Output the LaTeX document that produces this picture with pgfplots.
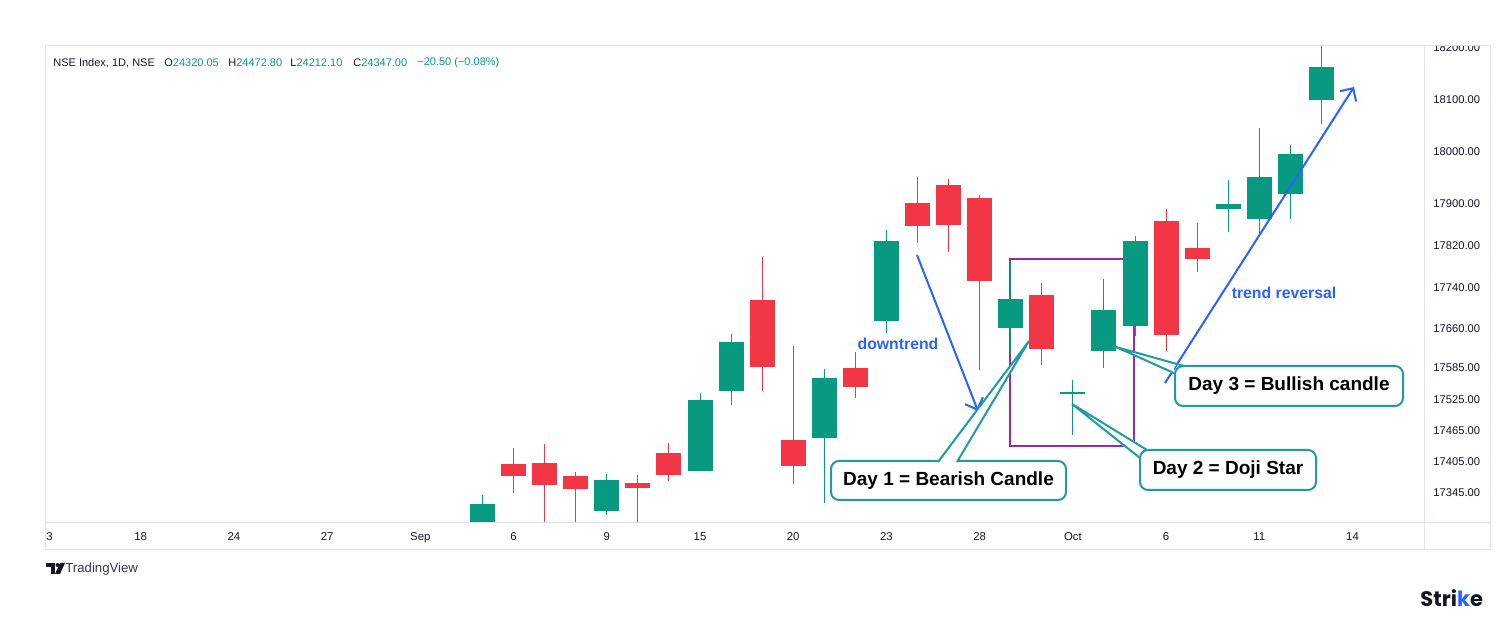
\documentclass[border=0pt]{standalone}
\usepackage{fontspec}
\setmainfont{Liberation Sans}
\newfontfamily\poppins{Poppins}
\usepackage{pgfplots}
\usepackage{pgfplotstable}
\pgfplotsset{compat=1.18}
\usetikzlibrary{arrows.meta}
\definecolor{tvgreen}{HTML}{089981}
\definecolor{tvred}{HTML}{F23645}
\definecolor{tvframe}{HTML}{E0E3EB}
\definecolor{tvtext}{HTML}{131722}
\definecolor{tvblue}{HTML}{2962FF}
\definecolor{tvpurple}{HTML}{9C27B0}
\definecolor{callout}{HTML}{1E9BA3}
% bar index, open, high, low, close
\pgfplotstableread{
x  o      h      l      c
0  17275  17341  17260  17324
4  17310  17382  17303  17370
7  17387  17537  17387  17524
8  17541  17650  17514  17635
11 17451  17583  17326  17566
13 17675  17850  17652  17829
17 17662  17791  17614  17718
19 17536  17562  17456  17539
20 17618  17756  17585  17697
21 17666  17839  17647  17829
24 17891  17946  17846  17900
25 17871  18046  17845  17952
26 17919  18014  17871  17996
27 18100  18210  18054  18163
}\bulldata
\pgfplotstableread{
x  o      h      l      c
1  17401  17431  17345  17378
2  17403  17439  17280  17360
3  17378  17385  17280  17353
5  17364  17380  17280  17355
6  17422  17441  17368  17380
9  17716  17798  17541  17587
10 17447  17627  17362  17397
12 17585  17616  17528  17549
14 17902  17952  17825  17858
15 17937  17948  17808  17860
16 17912  17918  17581  17752
18 17725  17748  17591  17622
22 17868  17891  17618  17649
23 17816  17864  17770  17795
}\beardata
\begin{document}
\begin{tikzpicture}
\path[use as bounding box, fill=white] (0,0) rectangle (750pt,310pt);
% purple highlight box (behind the candles)
\begin{scope}[x=0.5pt, y=-0.5pt, shift={(0pt,310pt)}]
  \draw[tvpurple, line width=1pt] (1010,259) rectangle (1134,446);
\end{scope}
\begin{axis}[
  at={(22.5pt,48.5pt)}, anchor=south west,
  scale only axis, width=689.5pt, height=238.5pt,
  xmin=-14.08, xmax=30.30, ymin=17287.4, ymax=18203.8,
  axis line style={draw=none},
  scaled y ticks=false, scaled x ticks=false,
  xtick={-11,-8,...,28},
  xticklabels={18,24,27,Sep,6,9,15,20,23,28,Oct,6,11,14},
  ytick={17345,17405,17465,17525,17585,17660,17740,17820,17900,18000,18100,18200},
  yticklabels={17345.00,17405.00,17465.00,17525.00,17585.00,17660.00,17740.00,17820.00,17900.00,18000.00,18100.00,18200.00},
  yticklabel pos=right,
  major tick length=0pt,
  tick style={draw=none},
  xticklabel style={font=\fontsize{5.7}{6}\selectfont, text=tvtext, anchor=base, yshift=-9pt, inner sep=0pt},
  yticklabel style={font=\fontsize{5.6}{6}\selectfont, text=tvtext, anchor=west, xshift=4.5pt, inner sep=0pt},
]
% wicks
\addplot[draw=none, mark=none, error bars/.cd, y dir=plus, y explicit, error mark=none,
  error bar style={draw=tvgreen, line width=0.5pt}]
  table[x=x, y=l, y error expr=\thisrow{h}-\thisrow{l}] {\bulldata};
\addplot[draw=none, mark=none, error bars/.cd, y dir=plus, y explicit, error mark=none,
  error bar style={draw=tvred, line width=0.5pt}]
  table[x=x, y=l, y error expr=\thisrow{h}-\thisrow{l}] {\beardata};
% bodies
\addplot[draw=none, mark=none, error bars/.cd, y dir=plus, y explicit, error mark=none,
  error bar style={draw=tvgreen, line width=12.5pt}]
  table[x=x, y=o, y error expr=\thisrow{c}-\thisrow{o}] {\bulldata};
\addplot[draw=none, mark=none, error bars/.cd, y dir=plus, y explicit, error mark=none,
  error bar style={draw=tvred, line width=12.5pt}]
  table[x=x, y=c, y error expr=\thisrow{o}-\thisrow{c}] {\beardata};
\end{axis}
\begin{scope}[x=0.5pt, y=-0.5pt, shift={(0pt,310pt)}]
  % hide the clipped top label part and draw the frame
  \fill[white] (1425,0) rectangle (1489,45.5);
  \draw[tvframe, line width=0.5pt] (45,46) rectangle (1490,550);
  \draw[tvframe, line width=0.5pt] (45,523) -- (1490,523) (1424,46) -- (1424,550);
  \node[anchor=base west, inner sep=0pt, font=\fontsize{5.7}{6}\selectfont, text=tvtext] at (46,541) {3};
  % header
  \begin{scope}[every node/.style={anchor=west, inner sep=0pt, font=\fontsize{5.5}{6}\selectfont, text=tvtext}]
    \node at (53,63) {NSE Index, 1D, NSE};
    \node at (164,63) {O\textcolor{tvgreen}{24320.05}};
    \node at (228,63) {H\textcolor{tvgreen}{24472.80}};
    \node at (290,63) {L\textcolor{tvgreen}{24212.10}};
    \node at (353,63) {C\textcolor{tvgreen}{24347.00}};
    \node at (417,63) {\textcolor{tvgreen}{−20.50 (−0.08\%)}};
  \end{scope}
  % trend arrows
  \draw[tvblue, line width=1pt, -{Straight Barb[length=4.8pt,width=9.5pt]}] (917,255) -- (978,411);
  \draw[tvblue, line width=1pt, -{Straight Barb[length=4.8pt,width=9.5pt]}] (1165,383) -- (1354,87);
  \node[font=\bfseries\fontsize{7.9}{8}\selectfont, text=tvblue] at (898,344) {downtrend};
  \node[font=\bfseries\fontsize{7.9}{8}\selectfont, text=tvblue] at (1284,293) {trend reversal};
  % callouts
  \begin{scope}[callout, line width=1pt]
    \draw[fill=white, rounded corners=4pt] (831,461) rectangle (1066,500);
    \fill[white] (1029,341) -- (938,462.5) -- (957,462.5) -- cycle;
    \draw (938,462) -- (1029,341) -- (957,462);
    \draw[fill=white, rounded corners=4pt] (1140,450) rectangle (1316,490);
    \fill[white] (1072,404) -- (1139,459) -- (1139,452) -- (1141,449) -- (1148,449) -- cycle;
    \draw (1140,458) -- (1072,404) -- (1147,450);
    \draw[fill=white, rounded corners=4pt] (1175,366) rectangle (1403,406);
    \fill[white] (1116,347) -- (1174,374) -- (1174,368) -- (1176,365) -- (1185,365) -- cycle;
    \draw (1175,373.5) -- (1116,347) -- (1184,366);
  \end{scope}
  \begin{scope}[every node/.style={font=\bfseries\fontsize{9.5}{10}\selectfont, text=black}]
    \node at (948.5,480.5) {Day 1 = Bearish Candle};
    \node at (1228,470) {Day 2 = Doji Star};
    \node at (1289,386) {Day 3 = Bullish candle};
  \end{scope}
  % TradingView logo
  \fill[tvtext] (46,563) rectangle (54.5,567);
  \fill[tvtext] (50.5,563) rectangle (54.5,574);
  \fill[tvtext] (57.5,565) circle (2);
  \fill[tvtext] (60,563) -- (65,563) -- (60,574) -- (55,574) -- cycle;
  \node[anchor=west, inner sep=0pt, font=\fontsize{6.6}{7}\selectfont, text=tvtext!85] at (65,569) {TradingView};
  % Strike logo
  \node[anchor=west, inner sep=0pt, font=\poppins\bfseries\fontsize{10.5}{11}\selectfont, text=tvtext] at (1420,598) {Stri\textcolor{tvblue}{k}e};
\end{scope}
\end{tikzpicture}
\end{document}
